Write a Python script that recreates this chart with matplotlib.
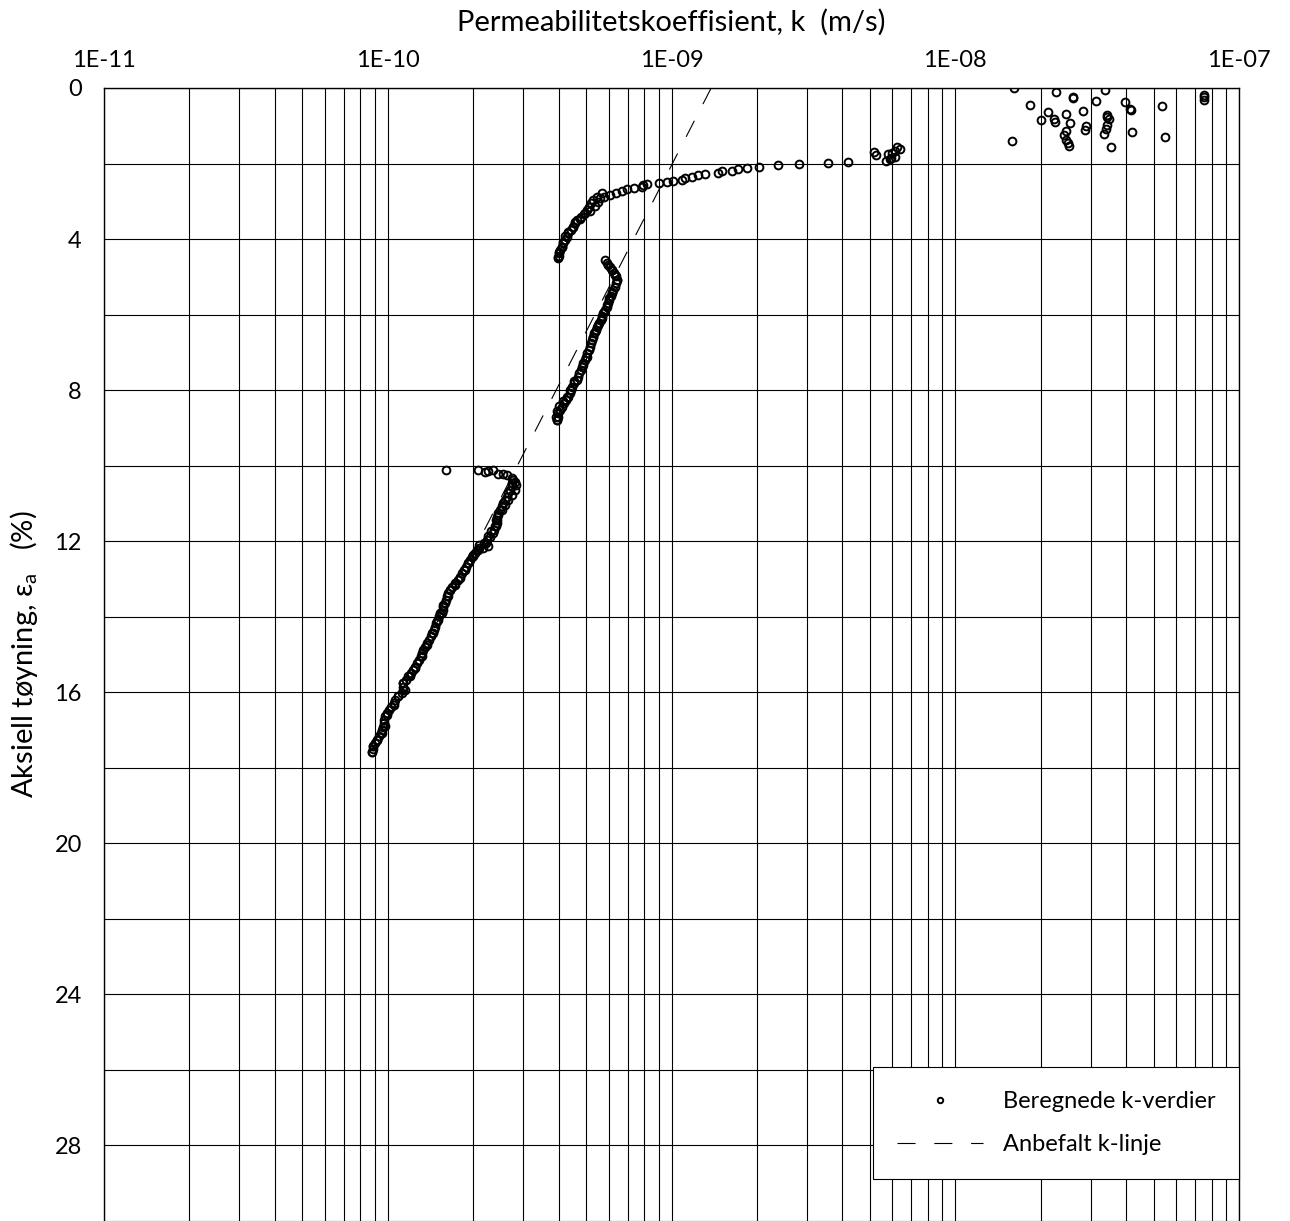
import matplotlib
matplotlib.use("Agg")
from matplotlib import pyplot as plt
from matplotlib.ticker import FixedLocator, FixedFormatter, LogLocator, MultipleLocator, NullFormatter

plt.rcParams["font.family"] = ["Lato", "DejaVu Sans"]
plt.rcParams["lines.scale_dashes"] = False

# Beregnede k-verdier (k in m/s, strain in %)
# scattered values at the start of the test
k_start = [1.61e-8, 1.83e-8, 1.58e-8, 2.00e-8, 2.27e-8, 2.13e-8, 2.23e-8, 2.24e-8, 2.46e-8, 2.59e-8,
           2.59e-8, 2.54e-8, 2.46e-8, 2.41e-8, 2.46e-8, 2.49e-8, 2.51e-8, 2.81e-8, 2.88e-8, 2.86e-8,
           3.13e-8, 3.38e-8, 3.44e-8, 3.44e-8, 3.47e-8, 3.44e-8, 3.41e-8, 3.34e-8, 3.54e-8, 3.95e-8,
           4.13e-8, 4.15e-8, 4.20e-8, 5.37e-8, 5.47e-8, 7.54e-8, 7.54e-8, 7.54e-8,
           5.19e-9, 5.25e-9, 5.78e-9, 5.68e-9, 5.87e-9, 5.95e-9, 6.14e-9, 6.15e-9, 6.21e-9, 6.38e-9, 6.00e-9]
eps_start = [0.00, 0.44, 1.41, 0.85, 0.11, 0.64, 0.81, 0.90, 0.68, 0.24,
             0.26, 0.93, 1.15, 1.25, 1.39, 1.46, 1.53, 0.62, 1.00, 1.11,
             0.35, 0.06, 0.71, 0.76, 0.83, 0.97, 1.08, 1.22, 1.56, 0.38,
             0.56, 0.58, 1.17, 0.48, 1.31, 0.18, 0.25, 0.32,
             1.70, 1.77, 1.75, 1.92, 1.87, 1.85, 1.82, 1.66, 1.57, 1.62, 1.73]

# first branch, 2 - 4.5 %
k_seg1 = [4.19e-9, 3.57e-9, 2.81e-9, 2.37e-9, 2.03e-9, 1.85e-9, 1.71e-9, 1.64e-9, 1.51e-9, 1.46e-9,
          1.31e-9, 1.24e-9, 1.18e-9, 1.12e-9, 1.09e-9, 1.01e-9, 9.62e-10, 9.03e-10, 8.22e-10, 7.91e-10,
          7.85e-10, 7.40e-10, 6.95e-10, 6.67e-10, 6.37e-10, 6.07e-10, 5.78e-10, 5.60e-10, 5.52e-10, 5.37e-10,
          5.16e-10, 4.92e-10, 4.76e-10, 4.57e-10, 4.51e-10, 4.33e-10, 4.22e-10, 4.13e-10, 4.10e-10, 4.02e-10,
          3.99e-10, 5.67e-10, 5.30e-10, 5.13e-10, 4.96e-10, 4.66e-10, 4.51e-10, 4.33e-10, 4.22e-10, 4.10e-10,
          4.02e-10, 3.99e-10, 5.48e-10, 5.22e-10, 5.05e-10, 4.81e-10, 4.58e-10, 4.41e-10, 4.27e-10, 4.16e-10,
          4.06e-10, 4.00e-10]
eps_seg1 = [1.95, 1.98, 2.01, 2.04, 2.08, 2.12, 2.15, 2.19, 2.21, 2.25,
            2.28, 2.31, 2.35, 2.38, 2.43, 2.45, 2.48, 2.52, 2.55, 2.57,
            2.61, 2.65, 2.68, 2.73, 2.77, 2.82, 2.88, 2.92, 3.01, 3.12,
            3.25, 3.34, 3.48, 3.56, 3.69, 3.80, 3.93, 4.07, 4.20, 4.33,
            4.48, 2.79, 2.96, 3.14, 3.32, 3.49, 3.67, 3.85, 4.02, 4.20,
            4.38, 4.51, 2.88, 3.05, 3.23, 3.41, 3.58, 3.76, 3.94, 4.11,
            4.29, 4.45]

# second branch, 4.5 - 8.8 %
k_seg2 = [5.83e-10, 5.99e-10, 6.15e-10, 6.32e-10, 6.44e-10, 6.32e-10, 6.18e-10, 6.04e-10, 5.91e-10, 5.78e-10,
          5.67e-10, 5.52e-10, 5.37e-10, 5.29e-10, 5.16e-10, 5.03e-10, 4.89e-10, 4.73e-10, 4.53e-10, 4.38e-10,
          4.27e-10, 4.13e-10, 4.02e-10, 3.94e-10, 3.92e-10, 3.94e-10,
          6.07e-10, 6.27e-10, 6.41e-10, 6.15e-10, 6.04e-10, 5.91e-10, 5.75e-10, 5.63e-10, 5.48e-10, 5.33e-10,
          5.26e-10, 5.05e-10, 4.96e-10, 4.82e-10, 4.63e-10, 4.47e-10, 4.39e-10, 4.25e-10, 4.10e-10, 3.99e-10,
          3.96e-10,
          5.94e-10, 6.17e-10, 6.36e-10, 6.37e-10, 6.24e-10, 6.11e-10, 5.98e-10, 5.83e-10, 5.69e-10, 5.55e-10,
          5.41e-10, 5.30e-10, 5.20e-10, 5.11e-10, 5.00e-10, 4.89e-10, 4.79e-10, 4.68e-10, 4.54e-10, 4.43e-10,
          4.32e-10, 4.17e-10, 4.05e-10, 3.97e-10]
eps_seg2 = [4.55, 4.68, 4.82, 4.95, 5.08, 5.26, 5.39, 5.57, 5.74, 5.92,
            6.10, 6.27, 6.45, 6.58, 6.85, 7.11, 7.33, 7.55, 7.77, 7.99,
            8.17, 8.30, 8.43, 8.56, 8.70, 8.80,
            4.73, 4.91, 5.08, 5.43, 5.61, 5.79, 5.96, 6.14, 6.32, 6.49,
            6.67, 7.02, 7.20, 7.38, 7.73, 7.91, 8.08, 8.26, 8.44, 8.61,
            8.79,
            4.64, 4.82, 4.99, 5.17, 5.35, 5.52, 5.70, 5.88, 6.05, 6.23,
            6.41, 6.58, 6.76, 6.94, 7.11, 7.29, 7.46, 7.64, 7.82, 7.99,
            8.17, 8.35, 8.52, 8.70]

# third branch, 10.1 - 17.6 %
k_seg3 = [1.61e-10, 2.08e-10, 2.20e-10, 2.26e-10, 2.34e-10, 2.45e-10, 2.55e-10, 2.64e-10, 2.73e-10, 2.81e-10,
          2.84e-10, 2.81e-10, 2.73e-10, 2.66e-10, 2.59e-10, 2.52e-10, 2.45e-10, 2.41e-10, 2.39e-10, 2.32e-10,
          2.26e-10, 2.22e-10, 2.26e-10, 2.17e-10, 2.08e-10, 2.00e-10, 1.92e-10, 1.87e-10, 1.80e-10, 1.73e-10,
          1.66e-10, 1.63e-10, 1.57e-10, 1.53e-10, 1.49e-10, 1.43e-10, 1.37e-10, 1.32e-10, 1.25e-10, 1.20e-10,
          1.13e-10, 1.15e-10, 1.09e-10, 1.05e-10, 9.91e-11, 9.77e-11, 9.52e-11, 9.14e-11, 8.90e-11, 8.78e-11,
          2.77e-10, 2.73e-10, 2.66e-10, 2.59e-10, 2.52e-10, 2.45e-10, 2.42e-10, 2.41e-10, 2.34e-10, 2.23e-10,
          2.10e-10, 2.06e-10, 2.00e-10, 1.95e-10, 1.89e-10, 1.82e-10, 1.77e-10, 1.68e-10, 1.63e-10, 1.61e-10,
          1.57e-10, 1.55e-10, 1.50e-10, 1.47e-10, 1.44e-10, 1.40e-10, 1.35e-10, 1.32e-10, 1.29e-10, 1.25e-10,
          1.21e-10, 1.16e-10, 1.13e-10, 1.12e-10, 1.06e-10, 1.03e-10, 9.97e-11, 9.70e-11, 9.65e-11, 9.44e-11,
          9.14e-11, 8.90e-11, 8.82e-11,
          2.75e-10, 2.70e-10, 2.63e-10, 2.55e-10, 2.49e-10, 2.43e-10, 2.42e-10, 2.37e-10, 2.29e-10, 2.18e-10,
          2.09e-10, 2.03e-10, 1.98e-10, 1.92e-10, 1.86e-10, 1.80e-10, 1.73e-10, 1.66e-10, 1.62e-10, 1.59e-10,
          1.56e-10, 1.52e-10, 1.48e-10, 1.46e-10, 1.42e-10, 1.38e-10, 1.33e-10, 1.31e-10, 1.27e-10, 1.23e-10,
          1.18e-10, 1.13e-10, 1.13e-10, 1.09e-10, 1.05e-10, 1.01e-10, 9.80e-11, 9.68e-11, 9.55e-11, 9.29e-11,
          9.02e-11, 8.85e-11]
eps_seg3 = [10.11, 10.11, 10.18, 10.14, 10.11, 10.21, 10.21, 10.25, 10.33, 10.42,
            10.51, 10.64, 10.77, 10.90, 11.04, 11.17, 11.30, 11.43, 11.61, 11.74,
            11.87, 12.05, 12.14, 12.19, 12.23, 12.40, 12.58, 12.76, 12.98, 13.16,
            13.29, 13.46, 13.68, 13.90, 14.12, 14.44, 14.74, 15.05, 15.36, 15.58,
            15.76, 15.94, 16.11, 16.33, 16.60, 16.90, 17.08, 17.26, 17.43, 17.57,
            10.38, 10.55, 10.73, 10.91, 11.08, 11.26, 11.43, 11.61, 11.79, 11.96,
            12.10, 12.23, 12.36, 12.49, 12.67, 12.85, 13.02, 13.20, 13.37, 13.55,
            13.73, 13.90, 14.08, 14.26, 14.43, 14.61, 14.79, 14.96, 15.14, 15.32,
            15.49, 15.67, 15.85, 16.02, 16.20, 16.38, 16.55, 16.73, 16.91, 17.08,
            17.26, 17.43, 17.57,
            10.46, 10.64, 10.82, 10.99, 11.17, 11.35, 11.52, 11.70, 11.88, 12.05,
            12.18, 12.30, 12.42, 12.58, 12.76, 12.94, 13.11, 13.29, 13.46, 13.64,
            13.82, 13.99, 14.17, 14.35, 14.52, 14.70, 14.88, 15.05, 15.23, 15.41,
            15.58, 15.76, 15.93, 16.11, 16.29, 16.46, 16.64, 16.82, 16.99, 17.17,
            17.35, 17.50]

# Anbefalt k-linje (two end points)
k_line = [1.38e-9, 8.8e-11]
eps_line = [0.0, 17.5]

x_ticks = [1e-11, 1e-10, 1e-9, 1e-8, 1e-7]
x_ticklabels = ["1E-11", "1E-10", "1E-09", "1E-08", "1E-07"]

fig = plt.figure(figsize=(12.9, 12.21), dpi=100)
ax = fig.add_axes([104 / 1290, 0.0, 1135 / 1290, 1133 / 1221])

ax.plot(k_line, eps_line, color="black", lw=0.8, dashes=(13, 13.5), zorder=2, label="Anbefalt k-linje")

k_all = k_start + k_seg1 + k_seg2 + k_seg3
eps_all = eps_start + eps_seg1 + eps_seg2 + eps_seg3
ax.plot(k_all, eps_all, linestyle="none", marker="o", markersize=5.6, markerfacecolor="none",
        markeredgecolor="black", markeredgewidth=1.4, zorder=3, label="Beregnede k-verdier")

ax.set_xscale("log")
ax.set_xlim(1e-11, 1e-7)
ax.set_ylim(30, 0)

ax.xaxis.set_major_locator(FixedLocator(x_ticks))
ax.xaxis.set_major_formatter(FixedFormatter(x_ticklabels))
ax.xaxis.set_minor_locator(LogLocator(base=10, subs=range(2, 10)))
ax.xaxis.set_minor_formatter(NullFormatter())
ax.yaxis.set_major_locator(MultipleLocator(4))
ax.yaxis.set_minor_locator(MultipleLocator(2))

ax.xaxis.tick_top()
ax.xaxis.set_label_position("top")
ax.tick_params(axis="x", which="both", length=0, pad=12, labelsize=17)
ax.tick_params(axis="y", which="both", length=0, pad=16, labelsize=17)

ax.grid(True, which="both", color="black", lw=0.8)
ax.set_axisbelow(True)
for s in ax.spines.values():
    s.set_linewidth(1.0)
ax.spines["bottom"].set_visible(False)

ax.set_xlabel("Permeabilitetskoeffisient, k  (m/s)", fontsize=21, labelpad=14)
ax.set_ylabel("Aksiell tøyning, ε$_\\mathregular{a}$   (%)", fontsize=21, labelpad=10)

h, l = ax.get_legend_handles_labels()
leg = ax.legend(h[::-1], l[::-1], loc="lower right", bbox_to_anchor=(1.0, 0.037), borderaxespad=0,
                fontsize=17, handlelength=3.64, handletextpad=0.85, borderpad=1.0, labelspacing=0.96,
                fancybox=False, framealpha=1, edgecolor="black", markerscale=0.7)
leg.get_frame().set_linewidth(0.8)

fig.savefig("out.png", dpi=100)
